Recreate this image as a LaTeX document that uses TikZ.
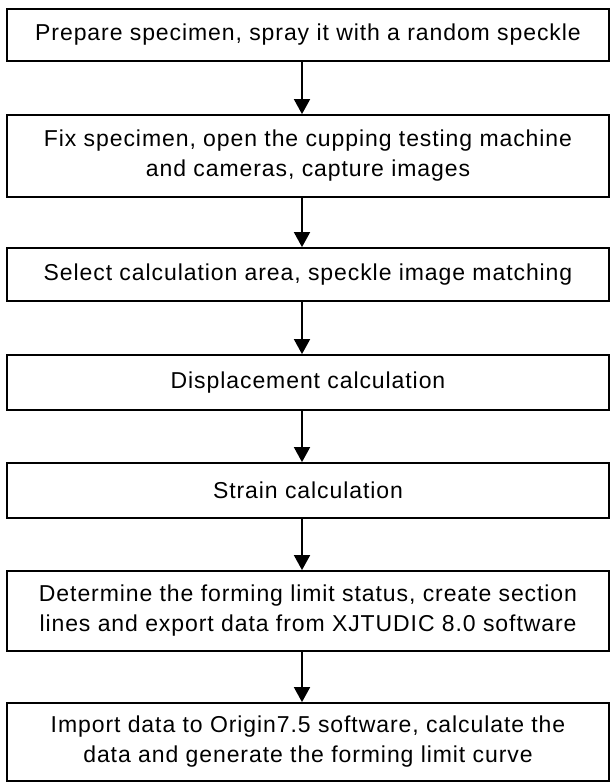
\documentclass[tikz,border=0pt]{standalone}
\usepackage{fontspec}
\setmainfont{Liberation Sans}[LetterSpace=4.0]
\usetikzlibrary{arrows.meta}
\begin{document}
\begin{tikzpicture}[x=1pt,y=-1pt,
  stepbox/.style={draw=black, line width=1.8pt, fill=white, minimum width=602pt, inner sep=0pt, align=center,
    font=\fontsize{23}{30}\selectfont},
  arr/.style={line width=1.8pt, -{Triangle[width=16pt,length=15pt]}}]
\fill[white] (0,0) rectangle (615,783);
\useasboundingbox (0,0) rectangle (615,783);
\node[stepbox, minimum height=52pt] (b1) at (308,35) {Prepare specimen, spray it with a random speckle};
\node[stepbox, minimum height=82pt] (b2) at (308,156) {Fix specimen, open the cupping testing machine\\and cameras, capture images};
\node[stepbox, minimum height=53pt] (b3) at (308,274.5) {Select calculation area, speckle image matching};
\node[stepbox, minimum height=55pt] (b4) at (308,382.5) {Displacement calculation};
\node[stepbox, minimum height=55pt] (b5) at (308,490.5) {Strain calculation};
\node[stepbox, minimum height=80pt] (b6) at (308,611) {Determine the forming limit status, create section\\lines and export data from XJTUDIC 8.0 software};
\node[stepbox, minimum height=78pt] (b7) at (308,742) {Import data to Origin7.5 software, calculate the\\data and generate the forming limit curve};
\foreach \a/\b in {b1/b2,b2/b3,b3/b4,b4/b5,b5/b6,b6/b7}
  \draw[arr] ([xshift=-6pt]\a.south) -- ([xshift=-6pt]\b.north);
\end{tikzpicture}
\end{document}
